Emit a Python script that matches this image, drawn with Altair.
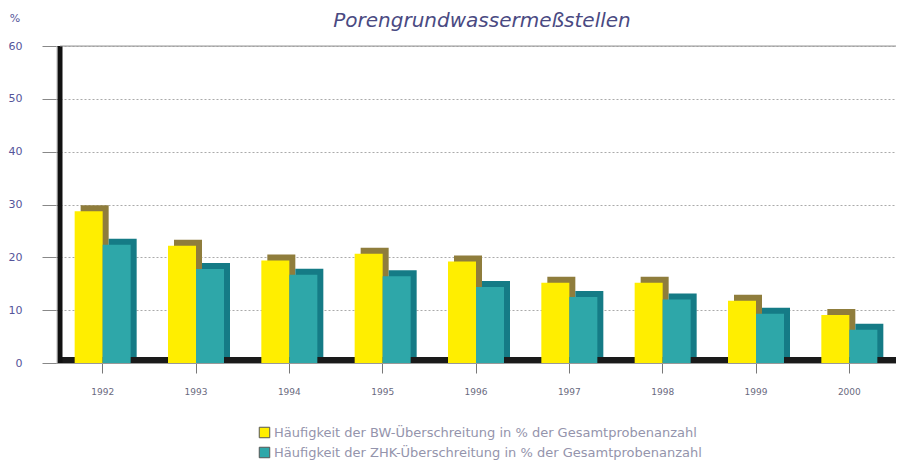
import altair as alt
import pandas as pd

years = ["1992", "1993", "1994", "1995", "1996", "1997", "1998", "1999", "2000"]
bw = [28.7, 22.2, 19.4, 20.7, 19.2, 15.2, 15.2, 11.8, 9.1]
zhk = [22.4, 17.8, 16.7, 16.4, 14.4, 12.5, 12.0, 9.3, 6.3]
series = [
    "Häufigkeit der BW-Überschreitung in % der Gesamtprobenanzahl",
    "Häufigkeit der ZHK-Überschreitung in % der Gesamtprobenanzahl",
]
front_colors = ["#ffee00", "#2ea7a9"]
back_colors = ["#8f7d3c", "#157b86"]
y_ticks = [0, 10, 20, 30, 40, 50, 60]

rows = []
for i, yr in enumerate(years):
    rows.append({"year": yr, "series": series[0], "value": bw[i]})
    rows.append({"year": yr, "series": series[1], "value": zhk[i]})
df = pd.DataFrame(rows)

W, H = 840, 317
BW_ = 28
D = 6

xscale = alt.Scale(domain=years, paddingInner=0.4, paddingOuter=0.2)
yscale = alt.Scale(domain=[0, 60], nice=False)


def y_axis():
    return alt.Axis(
        title=None, values=y_ticks, domain=False, ticks=True, tickColor="#888888",
        tickSize=14, labelPadding=20, labelFontSize=11, labelColor="#55559a",
        labelFont="DejaVu Sans", grid=True, gridColor="#aaaaaa", gridDash=[2, 2],
        gridWidth=1,
    )


x_enc = alt.X(
    "year:N",
    scale=xscale,
    sort=years,
    axis=alt.Axis(
        title=None, labelAngle=0, domain=True, domainColor="#999999", domainWidth=1,
        ticks=True, tickColor="#777777", tickSize=10, labelPadding=14,
        labelFontSize=9, labelColor="#6a6a80", labelFont="DejaVu Sans", grid=False,
    ),
)
y_enc = alt.Y("value:Q", scale=yscale, axis=y_axis())

color_enc = alt.Color(
    "series:N",
    scale=alt.Scale(domain=series, range=front_colors),
    legend=alt.Legend(
        title=None, orient="none", legendX=202, legendY=380, direction="vertical",
        symbolType="square", symbolSize=110, symbolStrokeColor="#555555",
        symbolStrokeWidth=1, labelFontSize=13, labelColor="#9494ac",
        labelFont="DejaVu Sans", rowPadding=5, labelOffset=3, labelLimit=800,
    ),
)

base = alt.Chart(df)

floor = alt.Chart(pd.DataFrame({"v": [0]})).mark_rule(
    color="#1a1a1a", strokeWidth=6, yOffset=-3
).encode(y=alt.Y("v:Q", scale=yscale, axis=y_axis()), x=alt.value(2), x2=alt.value(W))

top_line = alt.Chart(pd.DataFrame({"v": [60]})).mark_rule(
    color="#999999", strokeWidth=1
).encode(y=alt.Y("v:Q", scale=yscale, axis=y_axis()), x=alt.value(4), x2=alt.value(W))

yaxis_line = alt.Chart(pd.DataFrame({"a": [0], "b": [60]})).mark_rule(
    color="#111111", strokeWidth=5
).encode(y=alt.Y("a:Q", scale=yscale, axis=y_axis()), y2="b:Q", x=alt.value(4))

layers = [floor]
offsets = [-BW_ / 2, BW_ / 2]
for i, s in enumerate(series):
    sub = base.transform_filter(alt.datum.series == s)
    back = sub.mark_bar(
        width=BW_, xOffset=offsets[i] + D, yOffset=-D, color=back_colors[i]
    ).encode(x=x_enc, y=y_enc)
    front = sub.mark_bar(width=BW_, xOffset=offsets[i]).encode(
        x=x_enc, y=y_enc, color=color_enc
    )
    layers += [back, front]

pct = alt.Chart(pd.DataFrame({"t": ["%"]})).mark_text(
    fontSize=11, color="#55559a", font="DejaVu Sans", align="center", baseline="middle"
).encode(text="t:N", x=alt.value(-41), y=alt.value(-27))

title = alt.Chart(pd.DataFrame({"t": ["Porengrundwassermeßstellen"]})).mark_text(
    fontSize=20, color="#4a4a82", font="DejaVu Sans", fontStyle="italic",
    align="center", baseline="middle"
).encode(text="t:N", x=alt.value(426), y=alt.value(-25))

layers += [yaxis_line, top_line, pct, title]

chart = alt.layer(*layers).properties(
    width=W, height=H,
    autosize=alt.AutoSizeParams(type="none"),
    padding={"left": 48, "top": 38, "right": 0, "bottom": 98},
).configure_view(stroke=None).configure(background="#ffffff")

chart.save("out.html", embed_options={"renderer": "svg", "actions": False})
